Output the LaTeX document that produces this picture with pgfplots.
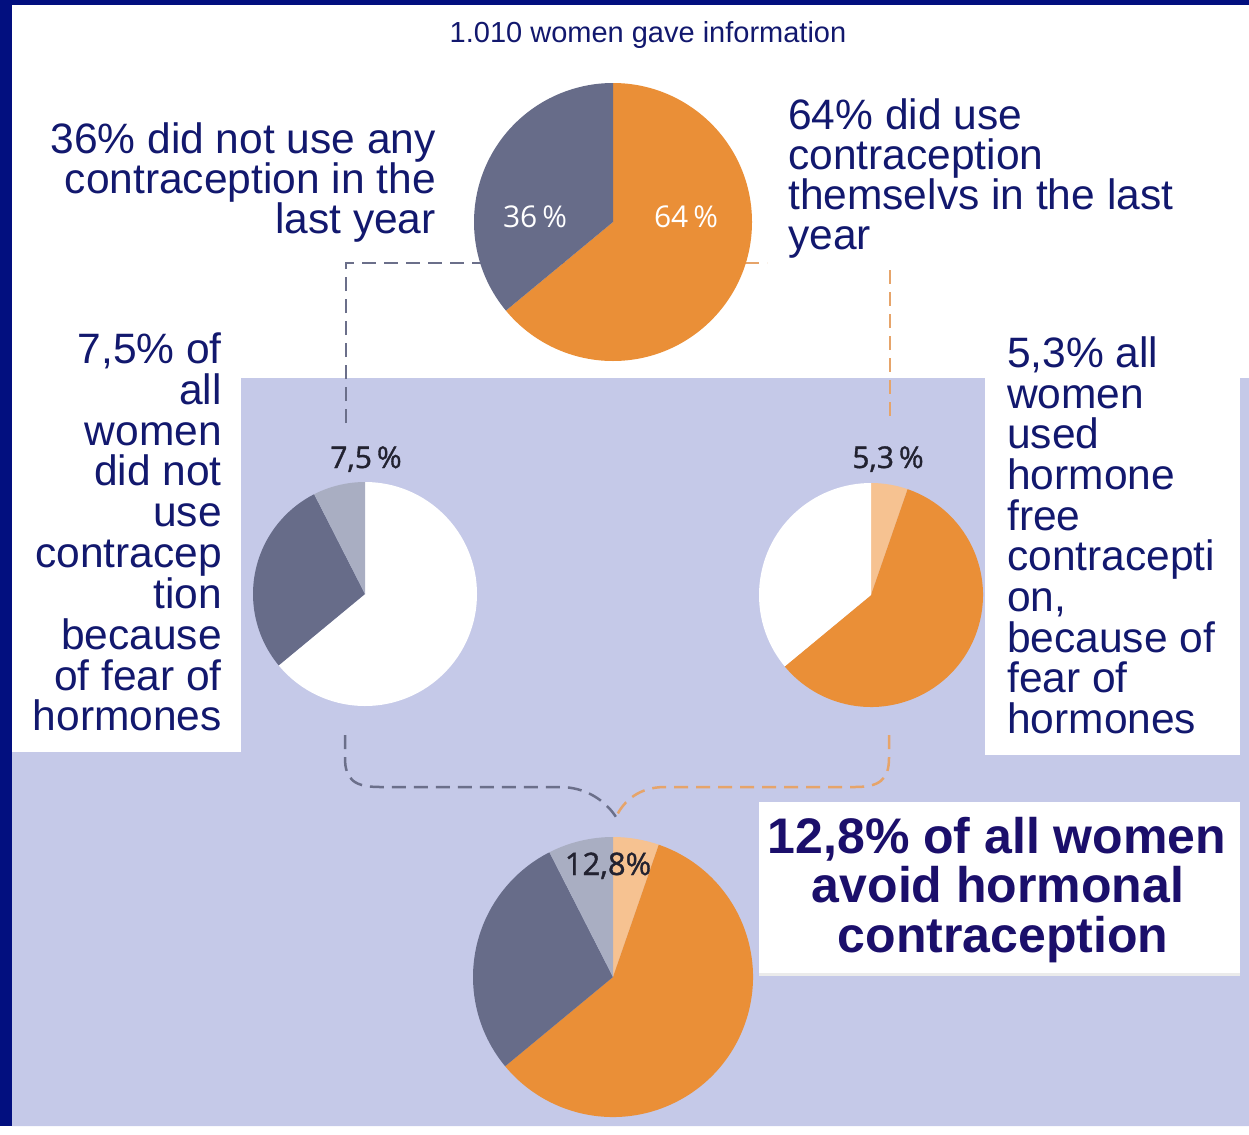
\documentclass[border=0pt]{standalone}
\usepackage{pgfplots}
\pgfplotsset{compat=1.18}
\usepackage{fontspec}
\setmainfont{Liberation Sans}
\newfontfamily\piefont{Open Sans}
\newfontfamily\piefontb[FakeBold=1.2]{Open Sans}
\definecolor{navy}{HTML}{12186E}
\definecolor{boldnavy}{HTML}{1B0F6B}
\definecolor{frame}{HTML}{020F7F}
\definecolor{lav}{HTML}{C5C9E8}
\definecolor{slate}{HTML}{676C89}
\definecolor{lgray}{HTML}{A9AEC2}
\definecolor{orng}{HTML}{EA8F37}
\definecolor{peach}{HTML}{F6C291}
\definecolor{dorng}{HTML}{E6A46A}
\definecolor{dgray}{HTML}{6B6F8A}
\definecolor{darktxt}{HTML}{222230}
% slice: cx, cy, r, from%, to% (clockwise from 12 o'clock), colour
\newcommand\slice[6]{\fill[#6] (axis cs:#1,#2) -- ++({90-3.6*(#4)}:#3pt) arc[start angle={90-3.6*(#4)}, end angle={90-3.6*(#5)}, radius=#3pt] -- cycle;}
\newcommand\lbl{\fontsize{42.5}{42.5}\selectfont}
\begin{document}
\begin{tikzpicture}
\begin{axis}[hide axis, scale only axis, width=1249pt, height=1126pt,
  xmin=0, xmax=1249, ymin=0, ymax=1126, y dir=reverse, clip=false]
% backgrounds
\fill[white] (axis cs:0,0) rectangle (axis cs:1249,1126);
\fill[lav] (axis cs:240,378) -- (axis cs:1249,378) -- (axis cs:1249,1126) -- (axis cs:12,1126) -- (axis cs:12,752) -- (axis cs:240,752) -- cycle;
\fill[frame] (axis cs:0,0) rectangle (axis cs:12,1126);
\fill[frame] (axis cs:0,0) rectangle (axis cs:1249,5);
% dashed connectors
\draw[dgray, line width=2.5pt, dash pattern=on 14pt off 8pt] (axis cs:346,423) -- (axis cs:346,263) -- (axis cs:613,263);
\draw[dorng, line width=2.5pt, dash pattern=on 14pt off 8pt] (axis cs:613,263) -- (axis cs:767,263);
\draw[dorng, line width=2.5pt, dash pattern=on 14pt off 8pt] (axis cs:890,270) -- (axis cs:890,423);
\draw[dgray, line width=2.5pt, dash pattern=on 14pt off 8pt] (axis cs:345,735) -- (axis cs:345,758) .. controls (axis cs:345,780) and (axis cs:355,787) .. (axis cs:380,787) -- (axis cs:560,787) .. controls (axis cs:585,787) and (axis cs:605,800) .. (axis cs:616,817);
\draw[dorng, line width=2.5pt, dash pattern=on 14pt off 8pt] (axis cs:889,735) -- (axis cs:889,758) .. controls (axis cs:889,780) and (axis cs:879,787) .. (axis cs:855,787) -- (axis cs:665,787) .. controls (axis cs:640,787) and (axis cs:624,800) .. (axis cs:616,817);
% top pie: 64 / 36
\slice{613}{222}{139}{0}{64}{orng}
\slice{613}{222}{139}{64}{100}{slate}
% left pie: 64 (white) / 28.5 / 7.5
\slice{365}{594}{112}{0}{64}{white}
\slice{365}{594}{112}{64}{92.5}{slate}
\slice{365}{594}{112}{92.5}{100}{lgray}
% right pie: 5.3 / 58.7 / 36 (white)
\slice{871}{595}{112}{0}{5.3}{peach}
\slice{871}{595}{112}{5.3}{64}{orng}
\slice{871}{595}{112}{64}{100}{white}
% bottom pie: 5.3 / 58.7 / 28.5 / 7.5
\slice{613}{977}{140}{0}{5.3}{peach}
\slice{613}{977}{140}{5.3}{64}{orng}
\slice{613}{977}{140}{64}{92.5}{slate}
\slice{613}{977}{140}{92.5}{100}{lgray}
% white text boxes
\fill[white] (axis cs:12,320) rectangle (axis cs:241,752);
\fill[white] (axis cs:985,330) rectangle (axis cs:1240,755);
\fill[white] (axis cs:759,802) rectangle (axis cs:1240,973);
\fill[black!8] (axis cs:759,973) rectangle (axis cs:1240,976);
% pie labels
\node[white, anchor=base, inner sep=0, font=\piefont\fontsize{30}{30}\selectfont] at (axis cs:535,227) {36\,\%};
\node[white, anchor=base, inner sep=0, font=\piefont\fontsize{30}{30}\selectfont] at (axis cs:686,227) {64\,\%};
\node[darktxt, anchor=base, inner sep=0, font=\piefontb\fontsize{30}{30}\selectfont] at (axis cs:366,468) {7,5\,\%};
\node[darktxt, anchor=base, inner sep=0, font=\piefontb\fontsize{30}{30}\selectfont] at (axis cs:888,468) {5,3\,\%};
\node[darktxt, anchor=base, inner sep=0, font=\piefontb\fontsize{31}{31}\selectfont] at (axis cs:608,875) {12,8\%};
% title
\node[navy, anchor=base, inner sep=0, font=\fontsize{29}{29}\selectfont] at (axis cs:648,43) {1.010 women gave information};
% top-left label
\node[navy, anchor=base east, inner sep=0, font=\lbl] at (axis cs:436,153) {36\% did not use any};
\node[navy, anchor=base east, inner sep=0, font=\lbl] at (axis cs:436,193) {contraception in the};
\node[navy, anchor=base east, inner sep=0, font=\lbl] at (axis cs:436,233) {last year};
% top-right label
\node[navy, anchor=base west, inner sep=0, font=\lbl] at (axis cs:788,129) {64\% did use};
\node[navy, anchor=base west, inner sep=0, font=\lbl] at (axis cs:788,169) {contraception};
\node[navy, anchor=base west, inner sep=0, font=\lbl] at (axis cs:788,209) {themselvs in the last};
\node[navy, anchor=base west, inner sep=0, font=\lbl] at (axis cs:788,249) {year};
% left middle label
\node[navy, anchor=base east, inner sep=0, font=\lbl] at (axis cs:222,363) {7,5\% of};
\node[navy, anchor=base east, inner sep=0, font=\lbl] at (axis cs:222,404) {all};
\node[navy, anchor=base east, inner sep=0, font=\lbl] at (axis cs:222,445) {women};
\node[navy, anchor=base east, inner sep=0, font=\lbl] at (axis cs:222,485) {did not};
\node[navy, anchor=base east, inner sep=0, font=\lbl] at (axis cs:222,526) {use};
\node[navy, anchor=base east, inner sep=0, font=\lbl] at (axis cs:222,567) {contracep};
\node[navy, anchor=base east, inner sep=0, font=\lbl] at (axis cs:222,608) {tion};
\node[navy, anchor=base east, inner sep=0, font=\lbl] at (axis cs:222,649) {because};
\node[navy, anchor=base east, inner sep=0, font=\lbl] at (axis cs:222,690) {of fear of};
\node[navy, anchor=base east, inner sep=0, font=\lbl] at (axis cs:222,730) {hormones};
% right middle label
\node[navy, anchor=base west, inner sep=0, font=\lbl] at (axis cs:1007,367) {5,3\% all};
\node[navy, anchor=base west, inner sep=0, font=\lbl] at (axis cs:1007,408) {women};
\node[navy, anchor=base west, inner sep=0, font=\lbl] at (axis cs:1007,448) {used};
\node[navy, anchor=base west, inner sep=0, font=\lbl] at (axis cs:1007,489) {hormone};
\node[navy, anchor=base west, inner sep=0, font=\lbl] at (axis cs:1007,530) {free};
\node[navy, anchor=base west, inner sep=0, font=\lbl] at (axis cs:1007,570) {contracepti};
\node[navy, anchor=base west, inner sep=0, font=\lbl] at (axis cs:1007,611) {on,};
\node[navy, anchor=base west, inner sep=0, font=\lbl] at (axis cs:1007,652) {because of};
\node[navy, anchor=base west, inner sep=0, font=\lbl] at (axis cs:1007,692) {fear of};
\node[navy, anchor=base west, inner sep=0, font=\lbl] at (axis cs:1007,733) {hormones};
% bottom-right bold label
\node[boldnavy, anchor=base, inner sep=0, font=\bfseries\fontsize{50}{50}\selectfont] at (axis cs:997,853) {12,8\% of all women};
\node[boldnavy, anchor=base, inner sep=0, font=\bfseries\fontsize{50}{50}\selectfont] at (axis cs:998,902) {avoid hormonal};
\node[boldnavy, anchor=base, inner sep=0, font=\bfseries\fontsize{50}{50}\selectfont] at (axis cs:1003,952) {contraception};
\end{axis}
\end{tikzpicture}
\end{document}
